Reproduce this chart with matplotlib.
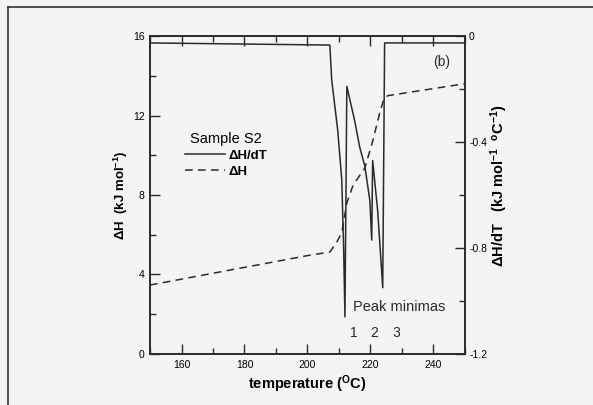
import matplotlib.pyplot as plt
from matplotlib.lines import Line2D
from matplotlib.ticker import MultipleLocator

# dashed curve: enthalpy (left axis)
temp_h = [150, 200, 207.1, 209.2, 210.9, 212.5, 214.5, 218.2, 220.7, 222.9, 224.2, 225.5, 250]
dh = [3.47, 4.95, 5.13, 5.6, 6.1, 7.6, 8.5, 9.35, 10.7, 12.1, 12.8, 13.0, 13.6]

# solid curve: dH/dT (right axis)
temp_d = [150, 207.1, 207.7, 209.6, 210.9, 211.5, 211.9, 212.5, 215.0, 216.6, 218.2,
          219.8, 220.4, 220.7, 222.3, 223.9, 224.5, 250]
dhdt = [-0.026, -0.034, -0.166, -0.355, -0.543, -0.81, -1.06, -0.19, -0.32, -0.42, -0.49,
        -0.62, -0.77, -0.47, -0.66, -0.95, -0.026, -0.026]

right_ticks = [0, -0.4, -0.8, -1.2]
right_labels = ["0", "-0.4", "-0.8", "-1.2"]
peak_temps = [214.7, 221.3, 228.3]
peak_names = ["1", "2", "3"]

plt.rcParams['font.family'] = ['Liberation Sans', 'DejaVu Sans']
plt.rcParams['mathtext.default'] = 'regular'
plt.rcParams['axes.unicode_minus'] = False

ink = "#2a2a2a"
fig = plt.figure(figsize=(5.93, 4.05), dpi=100)
fig.patch.set_facecolor("#f4f4f2")

# scanned page frame
fig.add_artist(Line2D([8 / 593, 8 / 593], [0, 1 - 7 / 405], color="#333333", lw=1.2))
fig.add_artist(Line2D([8 / 593, 1], [1 - 7 / 405, 1 - 7 / 405], color="#333333", lw=1.2))

ax = fig.add_axes([0.253, 0.126, 0.531, 0.785])
ax.set_facecolor("none")
ax2 = ax.twinx()

l1, = ax2.plot(temp_d, dhdt, color=ink, lw=1.1, label="ΔH/dT")
l2, = ax.plot(temp_h, dh, color=ink, lw=1.1, ls=(0, (5, 3.5)), label="ΔH")

ax.set_xlim(150, 250)
ax.set_ylim(0, 16)
ax2.set_ylim(-1.2, 0)

ax.xaxis.set_major_locator(MultipleLocator(20))
ax.xaxis.set_minor_locator(MultipleLocator(10))
ax.yaxis.set_major_locator(MultipleLocator(4))
ax.yaxis.set_minor_locator(MultipleLocator(2))
ax2.set_yticks(right_ticks, right_labels)
ax2.yaxis.set_minor_locator(MultipleLocator(0.2))

ax.tick_params(which="both", direction="in", top=True, right=False, color=ink,
               labelsize=7.5, pad=4)
ax.tick_params(which="major", length=7, width=1)
ax.tick_params(which="minor", length=4, width=1)
ax2.tick_params(which="both", direction="in", color=ink, labelsize=7.5, pad=3)
ax2.tick_params(which="major", length=7, width=1)
ax2.tick_params(which="minor", length=4, width=1)

for a in (ax, ax2):
    for s in a.spines.values():
        s.set_color(ink)
        s.set_linewidth(1.2)

ax.set_xlabel("temperature ($^{O}$C)", fontsize=10.5, fontweight="bold", labelpad=3)
ax.set_ylabel("ΔH  (kJ mol$^{-1}$)", fontsize=9.5, fontweight="bold", labelpad=2)
ax2.set_ylabel("ΔH/dT   (kJ mol$^{-1}$  $^{o}$C$^{-1}$)", fontsize=10.5, fontweight="bold",
               labelpad=-2)
ax2.yaxis.set_label_coords(1.075, 0.53)

leg = ax.legend([l1, l2], ["ΔH/dT", "ΔH"], title="Sample S2", loc="upper left",
                bbox_to_anchor=(0.09, 0.72), frameon=False, fontsize=9.5,
                title_fontsize=10.5, handlelength=3.0, handletextpad=0.3,
                labelspacing=0.3, borderpad=0)
for t in leg.get_texts():
    t.set_fontweight("bold")

ax.text(242.5, 14.7, "(b)", fontsize=10, ha="center", va="center", color=ink)
ax.text(229.2, 2.36, "Peak minimas", fontsize=10.5, ha="center", va="center", color=ink)
for t, n in zip(peak_temps, peak_names):
    ax.text(t, 1.05, n, fontsize=10, ha="center", va="center", color=ink)

fig.savefig("out.png", dpi=100, facecolor=fig.get_facecolor())
